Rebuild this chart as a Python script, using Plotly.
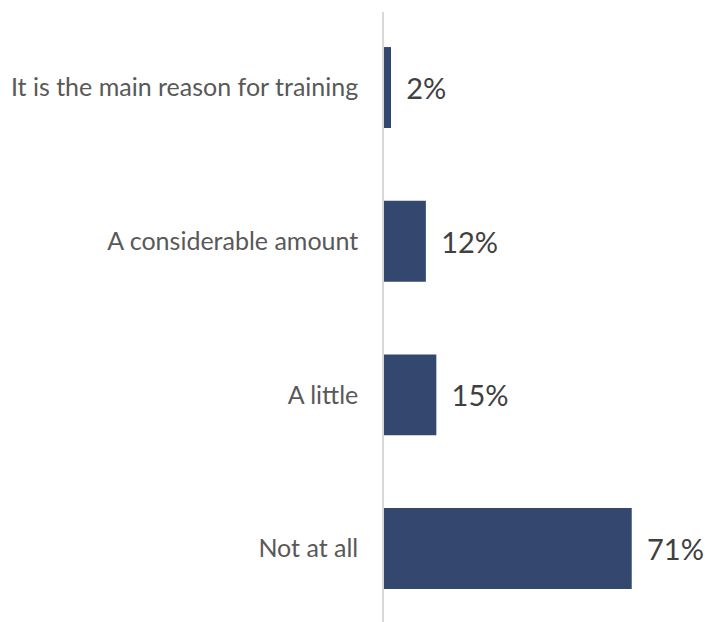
import plotly.graph_objects as go

categories = ["It is the main reason for training", "A considerable amount", "A little", "Not at all"]
values = [2, 12, 15, 71]
value_labels = ["2%", "12%", "15%", "71%"]

fig = go.Figure(go.Bar(
    x=values,
    y=categories,
    orientation="h",
    marker=dict(color="#34476f", line=dict(width=0)),
    text=["\u00a0\u2006" + t for t in value_labels],
    textposition="outside",
    cliponaxis=False,
    textfont=dict(family="Lato", size=29, color="#404040"),
    hoverinfo="skip",
))

fig.update_layout(
    width=705, height=622,
    margin=dict(l=384, r=0, t=12, b=0),
    paper_bgcolor="white", plot_bgcolor="white",
    bargap=0.473,
    showlegend=False,
    font=dict(family="Lato"),
)
fig.update_xaxes(range=[0, 92], showgrid=False, zeroline=False, showline=False,
                 showticklabels=False, ticks="")
fig.update_yaxes(range=[3.478, -0.4915], showgrid=False, zeroline=False,
                 showline=True, linecolor="#d9d9d9", linewidth=1.5,
                 ticks="", ticklabelstandoff=19,
                 tickfont=dict(family="Lato", size=25, color="#595959"))

fig.write_html(
    "out.html",
    config={"displayModeBar": False},
    post_script="document.body.style.margin='0';document.body.style.overflow='hidden';",
)
